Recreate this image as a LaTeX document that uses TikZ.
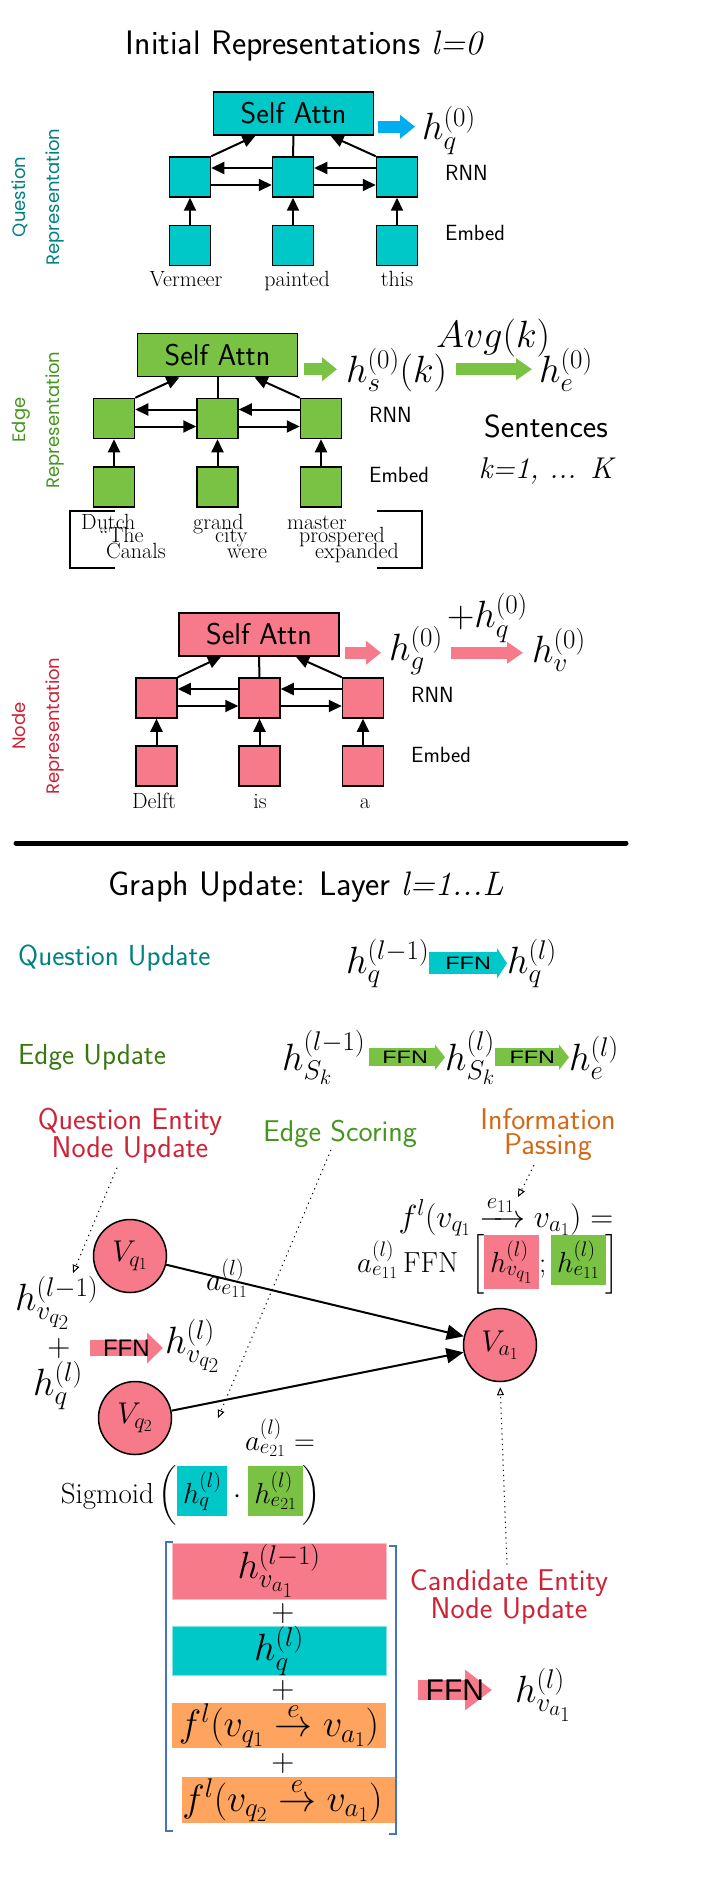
\RequirePackage{fix-cm}
\documentclass[tikz,border=0pt]{standalone}
\usepackage{amsmath}
\usepackage{graphicx}
\usepackage{fontspec}
\newfontfamily\geofont{Poppins}
\newfontfamily\arialfont{Liberation Sans}
\usetikzlibrary{arrows.meta}
\DeclareMathSizes{38}{38}{27}{21}
\DeclareMathSizes{32}{32}{23}{18}
\DeclareMathSizes{30}{30}{22}{17}
\DeclareMathSizes{29}{29}{21}{17}
\definecolor{qfill}{RGB}{0,200,200}
\definecolor{efill}{RGB}{122,194,68}
\definecolor{nfill}{RGB}{246,122,138}
\definecolor{ofill}{RGB}{255,164,94}
\definecolor{arrblue}{RGB}{0,174,239}
\definecolor{qdark}{RGB}{0,128,128}
\definecolor{edark}{RGB}{70,150,30}
\definecolor{edarker}{RGB}{55,120,15}
\definecolor{ndark}{RGB}{205,35,55}
\definecolor{iorange}{RGB}{210,105,25}
\definecolor{brkblue}{RGB}{68,114,196}
\setlength{\fboxsep}{6pt}
\begin{document}
\begin{tikzpicture}[x=1pt,y=-1pt,>={Triangle[length=13pt,width=12pt]},
  cell/.style={draw,line width=1.5pt,minimum width=41pt,minimum height=40pt,inner sep=0pt},
  attn/.style={draw,line width=1.5pt,minimum width=160pt,minimum height=43pt,inner sep=0pt,font=\sffamily\fontsize{30}{34}\selectfont},
  link/.style={line width=2pt,->},
  rnnlbl/.style={anchor=west,inner sep=0pt,font=\sffamily\fontsize{22}{26}\selectfont},
  word/.style={anchor=base,inner sep=0pt,font=\rmfamily\fontsize{22}{26}\selectfont},
  sent/.style={anchor=base west,inner sep=0pt,font=\rmfamily\fontsize{22}{24}\selectfont},
  hbig/.style={anchor=base west,inner sep=0pt,font=\fontsize{38}{42}\selectfont},
  rowname/.style={rotate=90,align=center,inner sep=0pt,font=\geofont\fontsize{18}{34}\selectfont},
  heading/.style={anchor=base,inner sep=0pt,font=\sffamily\fontsize{34}{38}\selectfont},
  upd/.style={anchor=west,inner sep=0pt,font=\sffamily\fontsize{29}{32}\selectfont},
  note/.style={align=center,inner sep=0pt,font=\sffamily\fontsize{30}{25}\selectfont},
  ent/.style={circle,draw,line width=1.5pt,fill=nfill,minimum size=73pt,inner sep=0pt,font=\fontsize{30}{34}\selectfont},
  frm/.style={inner sep=0pt,font=\fontsize{29}{34}\selectfont},
  hint/.style={line width=1pt,dash pattern=on 1.2pt off 4pt,-{Triangle[open,length=8pt,width=7pt]}},
  relarr/.style={line width=2pt,-{Triangle[length=17pt,width=15pt]}},
  bar/.style={inner sep=0pt,minimum width=214pt,font=\fontsize{38}{42}\selectfont},
  plus/.style={inner sep=0pt,font=\fontsize{32}{36}\selectfont},
  brk/.style={draw=brkblue,line width=2pt},
  smallarr/.style={line width=12pt,-{Triangle[length=15pt,width=23pt]}},
  bigarr/.style={line width=12pt,-{Triangle[length=16pt,width=21pt]}},
  qffn/.style={line width=22pt,-{Triangle[length=10pt,width=30pt]}},
  effn/.style={line width=18pt,-{Triangle[length=10pt,width=25pt]}},
  lffn/.style={line width=16pt,-{Triangle[length=16pt,width=30pt]}},
  bffn/.style={line width=20pt,-{Triangle[length=27pt,width=39pt]}},
  ffn/.style={inner sep=0pt,text=black,font=\arialfont\fontsize{18}{22}\selectfont},
]
\useasboundingbox (0,0) rectangle (715,1894);

% initial representations
\node[heading] (t1) at (304,55) {Initial Representations {\rmfamily\itshape l=0}};

% question
\node[rowname,text=qdark] (qlab) at (38,197) {Question\\Representation};
\node[attn,fill=qfill] (saQ) at (293.5,113.5) {Self Attn};
\node[cell,fill=qfill] (q1) at (190,177) {};
\node[cell,fill=qfill] (q2) at (293,177) {};
\node[cell,fill=qfill] (q3) at (397,177) {};
\node[cell,fill=qfill] (qe1) at (190,245.5) {};
\node[cell,fill=qfill] (qe2) at (293,245.5) {};
\node[cell,fill=qfill] (qe3) at (397,245.5) {};
\node[word] (w1) at (186,287) {Vermeer};
\node[word] (w2) at (297,287) {painted};
\node[word] (w3) at (397,287) {this};
\node[rnnlbl] (qrnn) at (445,173) {RNN};
\node[rnnlbl] (qemb) at (445,233) {Embed};
\draw[link] (qe1.north) -- (q1.south);
\draw[link] (qe2.north) -- (q2.south);
\draw[link] (qe3.north) -- (q3.south);
\draw[link] ([yshift=-8pt]q1.east) -- ([yshift=-8pt]q2.west);
\draw[link] ([yshift=-8pt]q2.east) -- ([yshift=-8pt]q3.west);
\draw[link] ([yshift=9pt]q3.west) -- ([yshift=9pt]q2.east);
\draw[link] ([yshift=9pt]q2.west) -- ([yshift=9pt]q1.east);
\draw[link] (q1.north east) -- ([xshift=-38pt]saQ.south);
\draw[link] (q3.north west) -- ([xshift=37pt]saQ.south);
\draw[line width=2pt] (q2.north) -- (saQ.south);
\node[hbig] (hq0) at (422,140) {$h_q^{(0)}$};
\coordinate (qa) at ([shift={(4pt,9pt)}]saQ.south east);
\draw[smallarr,draw=arrblue,shorten >=7pt] (qa) -- (qa -| hq0.west);

% edge
\node[rowname,text=edark] (elab) at (38,420) {Edge\\Representation};
\node[attn,fill=efill] (saE) at (217.5,355) {Self Attn};
\node[cell,fill=efill] (e1) at (114,418.5) {};
\node[cell,fill=efill] (e2) at (217.5,418.5) {};
\node[cell,fill=efill] (e3) at (321,418.5) {};
\node[cell,fill=efill] (ee1) at (114,487) {};
\node[cell,fill=efill] (ee2) at (217.5,487) {};
\node[cell,fill=efill] (ee3) at (321,487) {};
\node[rnnlbl] (ernn) at (369,415) {RNN};
\node[rnnlbl] (eemb) at (369,475) {Embed};
\draw[link] (ee1.north) -- (e1.south);
\draw[link] (ee2.north) -- (e2.south);
\draw[link] (ee3.north) -- (e3.south);
\draw[link] ([yshift=-8pt]e1.east) -- ([yshift=-8pt]e2.west);
\draw[link] ([yshift=-8pt]e2.east) -- ([yshift=-8pt]e3.west);
\draw[link] ([yshift=9pt]e3.west) -- ([yshift=9pt]e2.east);
\draw[link] ([yshift=9pt]e2.west) -- ([yshift=9pt]e1.east);
\draw[link] (e1.north east) -- ([xshift=-38pt]saE.south);
\draw[link] (e3.north west) -- ([xshift=37pt]saE.south);
\draw[line width=2pt] (e2.north) -- (saE.south);
\node[sent] (s11) at (81,529) {Dutch};
\node[sent] (s12) at (99,542) {``The};
\node[sent] (s13) at (106,558) {Canals};
\node[sent] (s21) at (193,529) {grand};
\node[sent] (s22) at (215,542) {city};
\node[sent] (s23) at (227,558) {were};
\node[sent] (s31) at (287,529) {master};
\node[sent] (s32) at (299,542) {prospered};
\node[sent] (s33) at (315,558) {expanded};
\draw[line width=2pt] (115,511) -- (70,511) -- (70,568) -- (115,568);
\draw[line width=2pt] (377,511) -- (422,511) -- (422,568) -- (377,568);
\node[hbig] (hs0) at (346,382) {$h_s^{(0)}(k)$};
\node[hbig] (he0) at (539,382) {$h_e^{(0)}$};
\coordinate (ga) at ([shift={(6pt,8pt)}]saE.south east);
\draw[smallarr,draw=efill,shorten >=9pt] (ga) -- (ga -| hs0.west);
\draw[bigarr,draw=efill,shorten <=9pt,shorten >=7pt] (ga -| hs0.east) -- (ga -| he0.west)
  node[midway,anchor=base,yshift=22pt,inner sep=0pt,font=\fontsize{38}{42}\selectfont] (avg) {$Avg(k)$};
\node[anchor=base,inner sep=0pt,font=\sffamily\fontsize{32}{36}\selectfont] (snt) at (546,437) {Sentences};
\node[anchor=base,inner sep=0pt,font=\rmfamily\itshape\fontsize{30}{34}\selectfont] (kk) at (546,478) {k=1, ... K};

% node
\node[rowname,text=ndark] (nlab) at (38,726) {Node\\Representation};
\node[attn,fill=nfill] (saN) at (259,634.5) {Self Attn};
\node[cell,fill=nfill] (n1) at (156.5,698) {};
\node[cell,fill=nfill] (n2) at (259.5,698) {};
\node[cell,fill=nfill] (n3) at (363,698) {};
\node[cell,fill=nfill] (ne1) at (156.5,766) {};
\node[cell,fill=nfill] (ne2) at (259.5,766) {};
\node[cell,fill=nfill] (ne3) at (363,766) {};
\node[word] (d1) at (154,808) {Delft};
\node[word] (d2) at (260,808) {is};
\node[word] (d3) at (365,808) {a};
\node[rnnlbl] (nrnn) at (411,695) {RNN};
\node[rnnlbl] (nemb) at (411,755) {Embed};
\draw[link] (ne1.north) -- (n1.south);
\draw[link] (ne2.north) -- (n2.south);
\draw[link] (ne3.north) -- (n3.south);
\draw[link] ([yshift=-8pt]n1.east) -- ([yshift=-8pt]n2.west);
\draw[link] ([yshift=-8pt]n2.east) -- ([yshift=-8pt]n3.west);
\draw[link] ([yshift=9pt]n3.west) -- ([yshift=9pt]n2.east);
\draw[link] ([yshift=9pt]n2.west) -- ([yshift=9pt]n1.east);
\draw[link] (n1.north east) -- ([xshift=-38pt]saN.south);
\draw[link] (n3.north west) -- ([xshift=37pt]saN.south);
\draw[line width=2pt] (n2.north) -- (saN.south);
\node[hbig] (hg0) at (389,660) {$h_g^{(0)}$};
\node[hbig] (hv0) at (532,662) {$h_v^{(0)}$};
\coordinate (pa) at ([shift={(5pt,4pt)}]saN.south east);
\draw[smallarr,draw=nfill,shorten >=8pt] (pa) -- (pa -| hg0.west);
\draw[bigarr,draw=nfill,shorten <=8pt,shorten >=9pt] (pa -| hg0.east) -- (pa -| hv0.west)
  node[midway,anchor=base,yshift=25pt,inner sep=0pt,font=\fontsize{38}{42}\selectfont] (addq) {$+h_q^{(0)}$};

\draw[line width=5pt,line cap=round] (16,843) -- (626,843);

% graph update
\node[heading] (t2) at (306,895) {Graph Update: Layer {\rmfamily\itshape l=1...L}};
\node[upd,text=qdark] (qupd) at (18,958) {Question Update};
\node[upd,text=edarker] (eupd) at (18,1057) {Edge Update};
\node[hbig] (hql1) at (346,973) {$h_q^{(l-1)}$};
\node[hbig] (hql) at (507,973) {$h_q^{(l)}$};
\draw[qffn,draw=qfill] (hql1.east) -- (hql.west) node[midway,ffn] {\scalebox{1.3}[1]{FFN}};
\node[hbig] (hS1) at (282,1070) {$h_{S_k}^{(l-1)}$};
\node[hbig] (hS2) at (445,1070) {$h_{S_k}^{(l)}$};
\node[hbig] (hel) at (569,1070) {$h_e^{(l)}$};
\draw[effn,draw=efill,shorten <=4pt] (hS1.east) -- (hS2.west) node[midway,ffn] {\scalebox{1.3}[1]{FFN}};
\draw[effn,draw=efill] (hS2.east) -- (hS2.east -| hel.west) node[midway,ffn] {\scalebox{1.3}[1]{FFN}};

% labels
\node[note,text=ndark] (qeL) at (130,1136) {Question Entity\\Node Update};
\node[note,text=edark] (esL) at (340,1134) {Edge Scoring};
\node[note,text=iorange] (ipL) at (548,1135) {Information\\Passing};

% entity graph
\node[ent] (vq1) at (130,1256) {$V_{q_1}$};
\node[ent] (vq2) at (135,1418) {$V_{q_2}$};
\node[ent] (va1) at (500,1345) {$V_{a_1}$};
\draw[relarr] (vq1) -- (va1);
\draw[relarr] (vq2) -- (va1);
\node[frm,font=\fontsize{30}{34}\selectfont] (ae11) at (227,1278) {$a_{e_{11}}^{(l)}$};

\node[frm,anchor=base,font=\fontsize{32}{36}\selectfont] (fl1) at (506,1227) {$f^l(v_{q_1}\xrightarrow{e_{11}}v_{a_1})=$};
\node[frm,anchor=base] (fl2) at (488,1272) {$a_{e_{11}}^{(l)}\,\mathrm{FFN}\;\left[\colorbox{nfill}{$h_{v_{q_1}}^{(l)}$};\colorbox{efill}{$h_{e_{11}}^{(l)}$}\right]$};
\node[frm,anchor=base] (ae21) at (280,1450) {$a_{e_{21}}^{(l)}=$};
\node[frm,anchor=base] (sig) at (191,1503) {$\mathrm{Sigmoid}\left(\colorbox{qfill}{$h_q^{(l)}$}\cdot\colorbox{efill}{$h_{e_{21}}^{(l)}$}\right)$};

\node[hbig] (hvq2a) at (15,1310) {$h_{v_{q_2}}^{(l-1)}$};
\node[plus] (pl0) at (59,1348) {$+$};
\node[hbig] (hqb) at (33,1395) {$h_q^{(l)}$};
\node[hbig] (hvq2b) at (165,1353) {$h_{v_{q_2}}^{(l)}$};
\draw[lffn,draw=nfill,shorten <=19pt,shorten >=2pt] (pl0.east) -- (pl0.east -| hvq2b.west)
  node[pos=.59,ffn,font=\arialfont\fontsize{24}{28}\selectfont] {FFN};

\coordinate (tq) at (73,1273);
\coordinate (ts) at (218,1418);
\coordinate (ti) at (518,1197);
\draw[hint] ([xshift=-13pt,yshift=-4pt]qeL.south) -- (tq);
\draw[hint] ([xshift=-9pt,yshift=-2pt]esL.south) -- (ts);
\draw[hint] ([xshift=-14pt,yshift=-4pt]ipL.south) -- (ti);

% candidate update
\node[note,text=ndark] (cdL) at (509,1597) {Candidate Entity\\Node Update};
\draw[hint,shorten >=5pt] ([xshift=-2pt,yshift=5pt]cdL.north) -- (va1.south);
\node[bar,fill=nfill,draw=nfill!50,minimum height=56pt] (b1) at (279,1571) {$h_{v_{a_1}}^{(l-1)}$};
\node[plus] (p1) at (283,1613) {$+$};
\node[bar,fill=qfill,draw=qfill!50,minimum height=46pt] (b2) at (279,1651) {$h_q^{(l)}$};
\node[plus] (p2) at (283,1690) {$+$};
\node[bar,fill=ofill,minimum height=45pt] (b3) at (279,1725.5) {$f^l(v_{q_1}\stackrel{e}{\rightarrow}v_{a_1})$};
\node[plus] (p3) at (283,1763) {$+$};
\node[bar,fill=ofill,minimum width=211pt,minimum height=46pt] (b4) at (289.5,1800) {$f^l(v_{q_2}\stackrel{e}{\rightarrow}v_{a_1})$\kern14pt};
\draw[brk] (173,1542) -- (166,1542) -- (166,1831) -- (173,1831);
\draw[brk] (389,1546) -- (396,1546) -- (396,1834) -- (389,1834);
\node[hbig] (hva1) at (515,1702) {$h_{v_{a_1}}^{(l)}$};
\coordinate (fs) at (418,1690);
\draw[bffn,draw=nfill,shorten >=23pt] (fs) -- (fs -| hva1.west)
  node[pos=.38,ffn,font=\arialfont\fontsize{30}{34}\selectfont] {FFN};
\end{tikzpicture}
\end{document}
